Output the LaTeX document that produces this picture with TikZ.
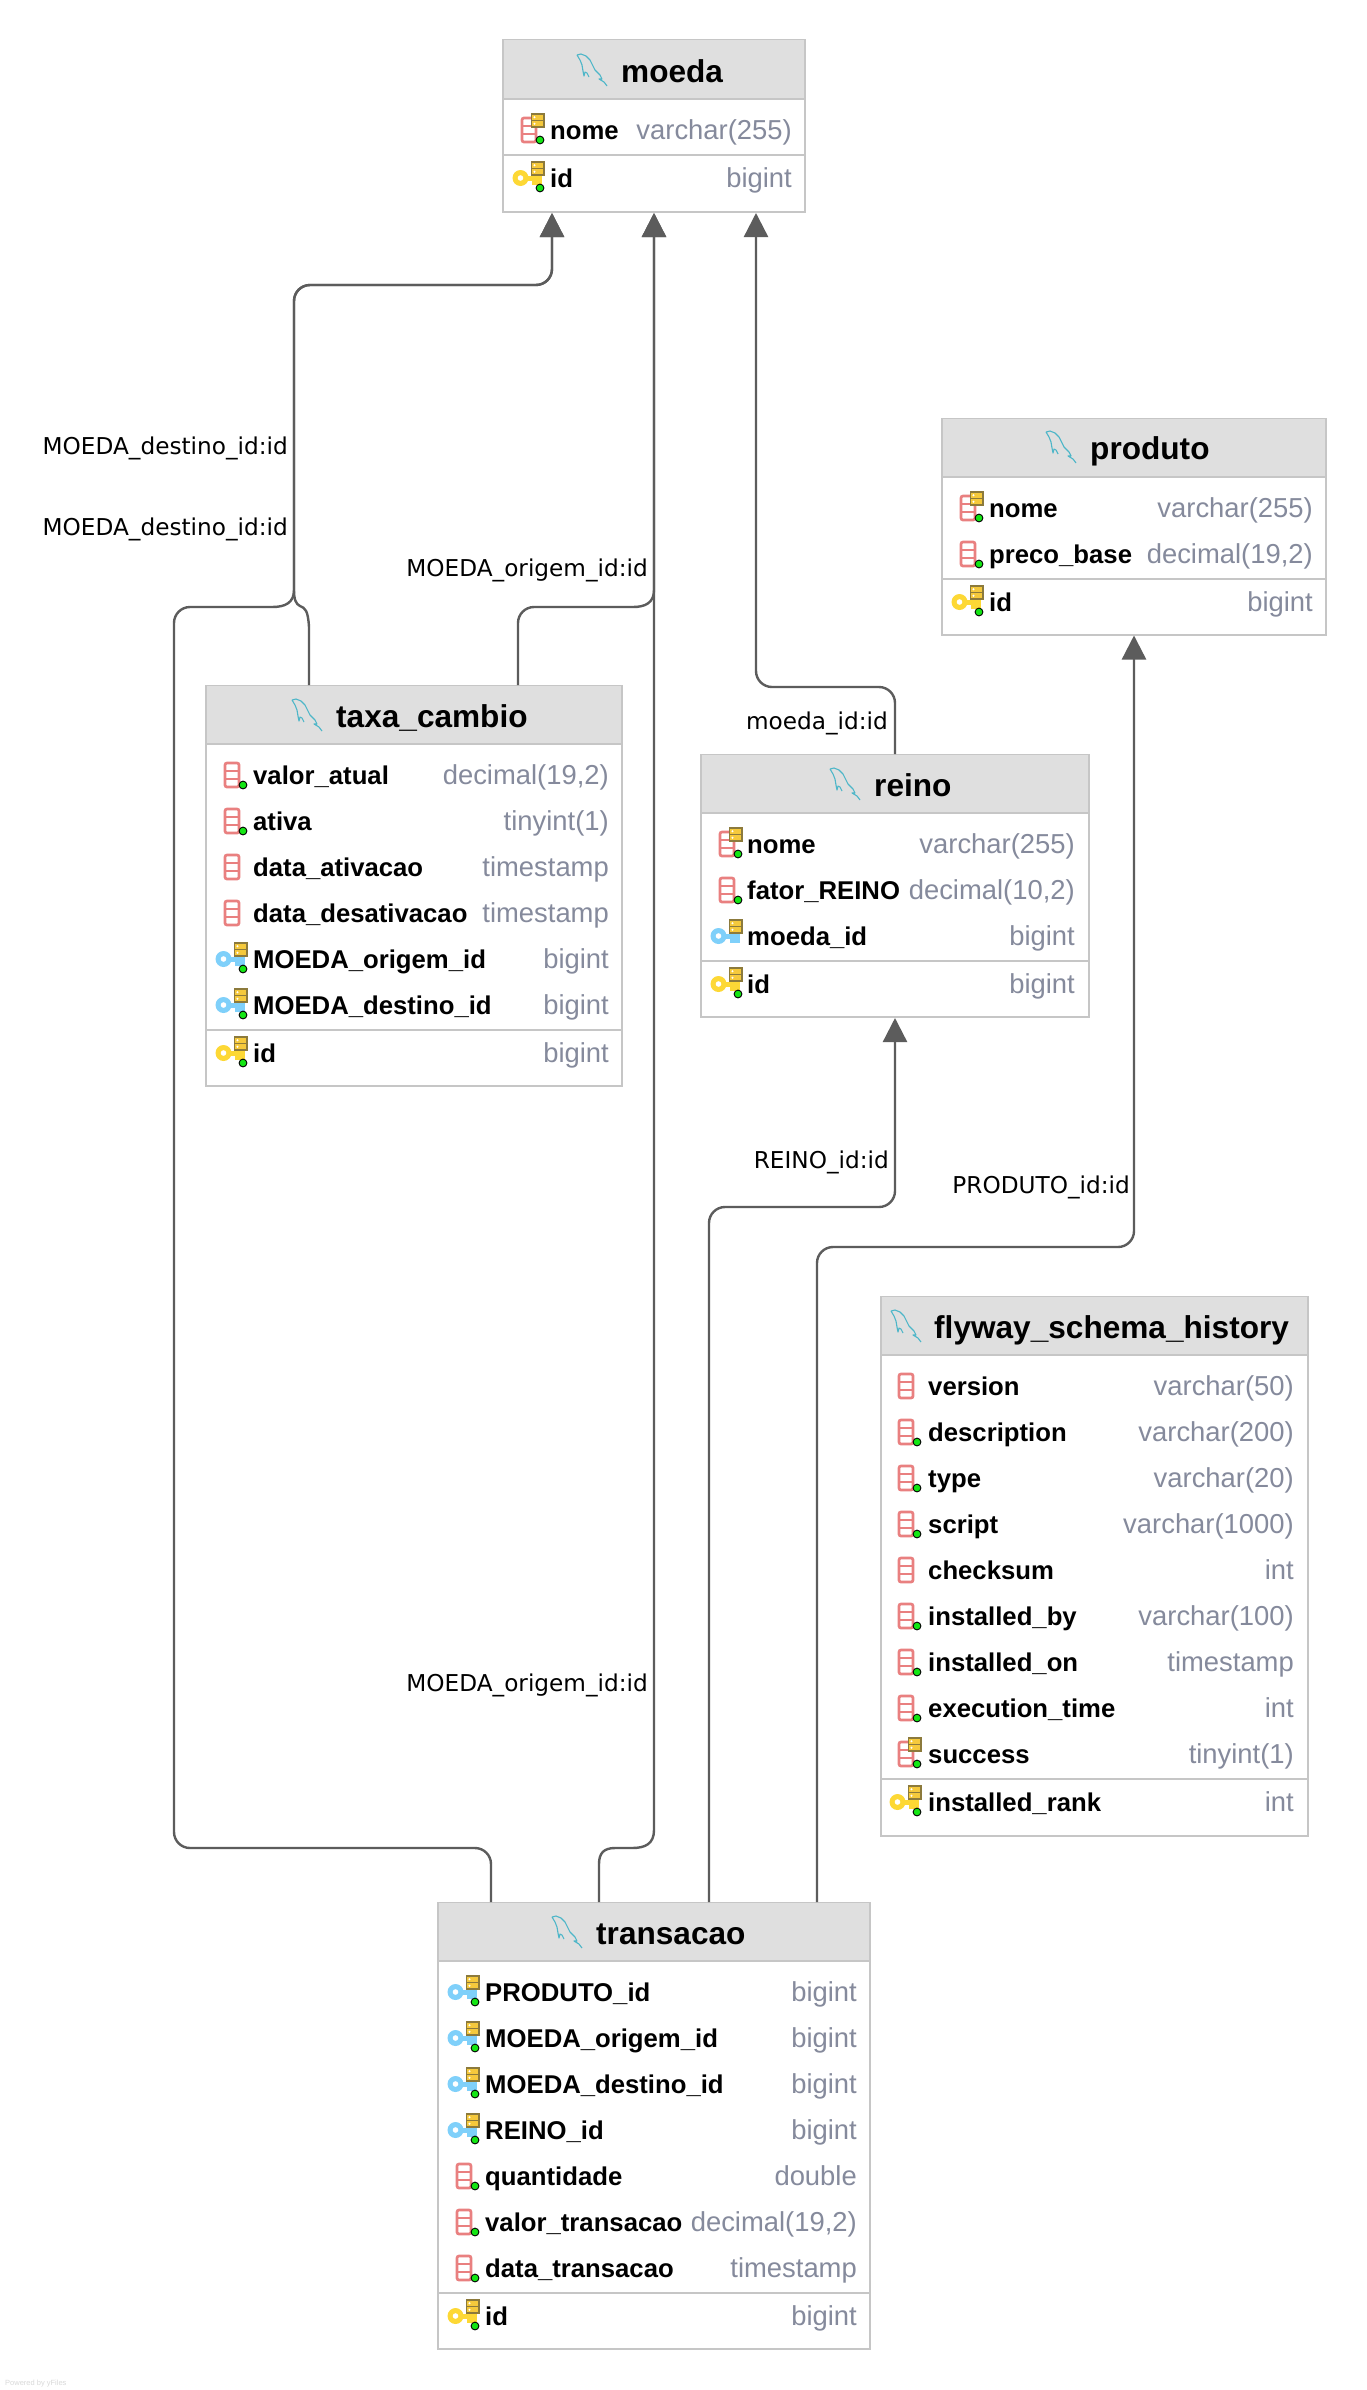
\documentclass[tikz,border=0pt]{standalone}
\usepackage{fontspec}
\usepackage{tikz}
\usetikzlibrary{arrows.meta}
\setmainfont{Liberation Sans}
\newfontfamily\linkfont{DejaVu Sans}

\definecolor{tableedge}{HTML}{C6C6C6}
\definecolor{headfill}{HTML}{DFDFDF}
\definecolor{typegray}{HTML}{858A9C}
\definecolor{linkgray}{HTML}{5C5C5C}
\definecolor{colred}{HTML}{E98080}
\definecolor{dotgreen}{HTML}{14E614}
\definecolor{idxgold}{HTML}{F5C93C}
\definecolor{idxedge}{HTML}{8C7A3C}
\definecolor{keygold}{HTML}{FDD835}
\definecolor{keyblue}{HTML}{7FD0FA}
\definecolor{fishteal}{HTML}{4DB6C8}

\tikzset{
    tablebox/.style={draw=tableedge, fill=white, line width=2pt, inner sep=0pt},
    tablehead/.style={fill=headfill, inner sep=0pt},
    tablerule/.style={draw=tableedge, line width=2.4pt},
    tabletitle/.style={anchor=base west, inner sep=0pt, font=\fontsize{31.6}{36}\bfseries\selectfont},
    fieldname/.style={anchor=base west, inner sep=0pt, font=\fontsize{25.7}{30}\bfseries\selectfont},
    fieldtype/.style={anchor=base east, inner sep=0pt, text=typegray, font=\fontsize{27.4}{30}\selectfont},
    linklabel/.style={anchor=base east, inner sep=0pt, font=\fontsize{23.2}{26}\linkfont\selectfont},
    fklink/.style={draw=linkgray, line width=2.4pt, rounded corners=16pt, -{Triangle[length=24pt,width=24pt]}},
    pics/colicon/.style={code={
        \draw[colred, line width=2.7pt, rounded corners=2pt] (-7,-12) rectangle (7,12);
        \draw[colred, line width=2.7pt] (-7,-4) -- (7,-4) (-7,4) -- (7,4);
    }},
    pics/nndot/.style={code={
        \filldraw[fill=dotgreen, draw=black, line width=0.9pt] (11,10) circle (3.9pt);
    }},
    pics/idxicon/.style={code={
        \filldraw[fill=idxgold, draw=idxedge, line width=1.2pt] (2.5,-16) rectangle (15,-9.5);
        \filldraw[fill=idxgold, draw=idxedge, line width=1.2pt] (2.5,-9.5) rectangle (15,-3);
        \fill[white] (5.5,-12.7) circle (1.1pt) (5.5,-6.2) circle (1.1pt);
    }},
    pics/keyicon/.style={code={
        \fill[#1] (-8.5,0) circle (8pt);
        \fill[#1] (-2,-2) rectangle (13,3);
        \fill[#1] (3,3) rectangle (13,7);
        \fill[white] (-8.5,0) circle (2.8pt);
    }},
    pics/colnn/.style={code={\pic {colicon}; \pic {nndot};}},
    pics/colidx/.style={code={\pic {colicon}; \pic {idxicon}; \pic {nndot};}},
    pics/fkey/.style={code={\pic {keyicon=keyblue}; \pic {idxicon}; \pic {nndot};}},
    pics/fkeybare/.style={code={\pic {keyicon=keyblue}; \pic {idxicon};}},
    pics/pkey/.style={code={\pic {keyicon=keygold}; \pic {idxicon}; \pic {nndot};}},
    pics/fish/.style={code={
        \draw[fishteal, line width=1.1pt, line join=round]
            (0,1) -- (4,0) -- (9,2) -- (13,6) -- (18,16) -- (23,21) -- (25,25) -- (22,25) -- (27,28) -- (30,32)
            (0,1) -- (3,6) -- (5,11) -- (6,17) -- (7,22) -- (8,18) -- (10,19) -- (12,23);
    }},
}

\begin{document}
\begin{tikzpicture}[x=1pt,y=-1pt]
    \useasboundingbox (0,0) rectangle (1366,2390);
    \fill[white] (0,0) rectangle (1366,2390);

    % moeda
    \node[tablebox, minimum width=302pt, minimum height=172pt] (moeda) at (654,126) {};
    \node[tablehead, minimum width=300pt, minimum height=58pt] (moeda_head) at (654,69.5) {};
    \draw[tablerule] (moeda_head.south west) -- (moeda_head.south east);
    \draw[tablerule] (503,155) -- (805,155);
    \pic at (577,54) {fish};
    \node[tabletitle] (moeda_title) at (621,82) {moeda};
    \pic at (529,130) {colidx};
    \node[fieldname] (moeda_nome) at (550,139.5) {nome};
    \node[fieldtype] (moeda_nome_type) at (792,139.5) {varchar(255)};
    \pic at (529,178) {pkey};
    \node[fieldname] (moeda_id) at (550,187.5) {id};
    \node[fieldtype] (moeda_id_type) at (792,187.5) {bigint};

    % produto
    \node[tablebox, minimum width=384pt, minimum height=216pt] (produto) at (1134,526.5) {};
    \node[tablehead, minimum width=382pt, minimum height=58pt] (produto_head) at (1134,448) {};
    \draw[tablerule] (produto_head.south west) -- (produto_head.south east);
    \draw[tablerule] (942,579) -- (1326,579);
    \pic at (1046,431) {fish};
    \node[tabletitle] (produto_title) at (1090,459) {produto};
    \pic at (968,508) {colidx};
    \node[fieldname] (produto_nome) at (989,517.5) {nome};
    \node[fieldtype] (produto_nome_type) at (1313,517.5) {varchar(255)};
    \pic at (968,554) {colnn};
    \node[fieldname] (produto_preco) at (989,563.5) {preco\_base};
    \node[fieldtype] (produto_preco_type) at (1313,563.5) {decimal(19,2)};
    \pic at (968,602) {pkey};
    \node[fieldname] (produto_id) at (989,611.5) {id};
    \node[fieldtype] (produto_id_type) at (1313,611.5) {bigint};

    % taxa_cambio
    \node[tablebox, minimum width=416pt, minimum height=400pt] (taxa_cambio) at (414,886) {};
    \node[tablehead, minimum width=414pt, minimum height=58pt] (taxa_head) at (414,715) {};
    \draw[tablerule] (taxa_head.south west) -- (taxa_head.south east);
    \draw[tablerule] (206,1030) -- (622,1030);
    \pic at (292,699) {fish};
    \node[tabletitle] (taxa_title) at (336,727) {taxa\_cambio};
    \pic at (232,775) {colnn};
    \node[fieldname] (taxa_valor) at (253,784.5) {valor\_atual};
    \node[fieldtype] (taxa_valor_type) at (609,784.5) {decimal(19,2)};
    \pic at (232,821) {colnn};
    \node[fieldname] (taxa_ativa) at (253,830.5) {ativa};
    \node[fieldtype] (taxa_ativa_type) at (609,830.5) {tinyint(1)};
    \pic at (232,867) {colicon};
    \node[fieldname] (taxa_ativacao) at (253,876.5) {data\_ativacao};
    \node[fieldtype] (taxa_ativacao_type) at (609,876.5) {timestamp};
    \pic at (232,913) {colicon};
    \node[fieldname] (taxa_desativacao) at (253,922.5) {data\_desativacao};
    \node[fieldtype] (taxa_desativacao_type) at (609,922.5) {timestamp};
    \pic at (232,959) {fkey};
    \node[fieldname] (taxa_origem) at (253,968.5) {MOEDA\_origem\_id};
    \node[fieldtype] (taxa_origem_type) at (609,968.5) {bigint};
    \pic at (232,1005) {fkey};
    \node[fieldname] (taxa_destino) at (253,1014.5) {MOEDA\_destino\_id};
    \node[fieldtype] (taxa_destino_type) at (609,1014.5) {bigint};
    \pic at (232,1053) {pkey};
    \node[fieldname] (taxa_id) at (253,1062.5) {id};
    \node[fieldtype] (taxa_id_type) at (609,1062.5) {bigint};

    % reino
    \node[tablebox, minimum width=388pt, minimum height=262pt] (reino) at (895,886) {};
    \node[tablehead, minimum width=386pt, minimum height=58pt] (reino_head) at (895,784) {};
    \draw[tablerule] (reino_head.south west) -- (reino_head.south east);
    \draw[tablerule] (701,961) -- (1089,961);
    \pic at (830,768) {fish};
    \node[tabletitle] (reino_title) at (874,796) {reino};
    \pic at (727,844) {colidx};
    \node[fieldname] (reino_nome) at (747,853.5) {nome};
    \node[fieldtype] (reino_nome_type) at (1075,853.5) {varchar(255)};
    \pic at (727,890) {colnn};
    \node[fieldname] (reino_fator) at (747,899.5) {fator\_REINO};
    \node[fieldtype] (reino_fator_type) at (1075,899.5) {decimal(10,2)};
    \pic at (727,936) {fkeybare};
    \node[fieldname] (reino_moeda) at (747,945.5) {moeda\_id};
    \node[fieldtype] (reino_moeda_type) at (1075,945.5) {bigint};
    \pic at (727,984) {pkey};
    \node[fieldname] (reino_id) at (747,993.5) {id};
    \node[fieldtype] (reino_id_type) at (1075,993.5) {bigint};

    % flyway_schema_history
    \node[tablebox, minimum width=427pt, minimum height=539pt] (flyway) at (1094.5,1566.5) {};
    \node[tablehead, minimum width=425pt, minimum height=58pt] (flyway_head) at (1094.5,1326) {};
    \draw[tablerule] (flyway_head.south west) -- (flyway_head.south east);
    \draw[tablerule] (881,1779) -- (1308,1779);
    \pic at (891,1310) {fish};
    \node[tabletitle] (flyway_title) at (934,1338) {flyway\_schema\_history};
    \pic at (906,1386) {colicon};
    \node[fieldname] (flyway_version) at (928,1395.5) {version};
    \node[fieldtype] (flyway_version_type) at (1294,1395.5) {varchar(50)};
    \pic at (906,1432) {colnn};
    \node[fieldname] (flyway_description) at (928,1441.5) {description};
    \node[fieldtype] (flyway_description_type) at (1294,1441.5) {varchar(200)};
    \pic at (906,1478) {colnn};
    \node[fieldname] (flyway_type) at (928,1487.5) {type};
    \node[fieldtype] (flyway_type_type) at (1294,1487.5) {varchar(20)};
    \pic at (906,1524) {colnn};
    \node[fieldname] (flyway_script) at (928,1533.5) {script};
    \node[fieldtype] (flyway_script_type) at (1294,1533.5) {varchar(1000)};
    \pic at (906,1570) {colicon};
    \node[fieldname] (flyway_checksum) at (928,1579.5) {checksum};
    \node[fieldtype] (flyway_checksum_type) at (1294,1579.5) {int};
    \pic at (906,1616) {colnn};
    \node[fieldname] (flyway_by) at (928,1625.5) {installed\_by};
    \node[fieldtype] (flyway_by_type) at (1294,1625.5) {varchar(100)};
    \pic at (906,1662) {colnn};
    \node[fieldname] (flyway_on) at (928,1671.5) {installed\_on};
    \node[fieldtype] (flyway_on_type) at (1294,1671.5) {timestamp};
    \pic at (906,1708) {colnn};
    \node[fieldname] (flyway_time) at (928,1717.5) {execution\_time};
    \node[fieldtype] (flyway_time_type) at (1294,1717.5) {int};
    \pic at (906,1754) {colidx};
    \node[fieldname] (flyway_success) at (928,1763.5) {success};
    \node[fieldtype] (flyway_success_type) at (1294,1763.5) {tinyint(1)};
    \pic at (906,1802) {pkey};
    \node[fieldname] (flyway_rank) at (928,1811.5) {installed\_rank};
    \node[fieldtype] (flyway_rank_type) at (1294,1811.5) {int};

    % transacao
    \node[tablebox, minimum width=432pt, minimum height=446pt] (transacao) at (654,2126) {};
    \node[tablehead, minimum width=430pt, minimum height=58pt] (transacao_head) at (654,1932) {};
    \draw[tablerule] (transacao_head.south west) -- (transacao_head.south east);
    \draw[tablerule] (438,2293) -- (870,2293);
    \pic at (552,1916) {fish};
    \node[tabletitle] (transacao_title) at (596,1944) {transacao};
    \pic at (464,1992) {fkey};
    \node[fieldname] (transacao_produto) at (485,2001.5) {PRODUTO\_id};
    \node[fieldtype] (transacao_produto_type) at (857,2001.5) {bigint};
    \pic at (464,2038) {fkey};
    \node[fieldname] (transacao_origem) at (485,2047.5) {MOEDA\_origem\_id};
    \node[fieldtype] (transacao_origem_type) at (857,2047.5) {bigint};
    \pic at (464,2084) {fkey};
    \node[fieldname] (transacao_destino) at (485,2093.5) {MOEDA\_destino\_id};
    \node[fieldtype] (transacao_destino_type) at (857,2093.5) {bigint};
    \pic at (464,2130) {fkey};
    \node[fieldname] (transacao_reino) at (485,2139.5) {REINO\_id};
    \node[fieldtype] (transacao_reino_type) at (857,2139.5) {bigint};
    \pic at (464,2176) {colnn};
    \node[fieldname] (transacao_quantidade) at (485,2185.5) {quantidade};
    \node[fieldtype] (transacao_quantidade_type) at (857,2185.5) {double};
    \pic at (464,2222) {colnn};
    \node[fieldname] (transacao_valor) at (485,2231.5) {valor\_transacao};
    \node[fieldtype] (transacao_valor_type) at (857,2231.5) {decimal(19,2)};
    \pic at (464,2268) {colnn};
    \node[fieldname] (transacao_data) at (485,2277.5) {data\_transacao};
    \node[fieldtype] (transacao_data_type) at (857,2277.5) {timestamp};
    \pic at (464,2316) {pkey};
    \node[fieldname] (transacao_id) at (485,2325.5) {id};
    \node[fieldtype] (transacao_id_type) at (857,2325.5) {bigint};

    % links
    \draw[fklink, sharp corners] ([xshift=-105pt]taxa_cambio.north) -- (309,627) .. controls (308,610) and (305,608) .. (300,606) .. controls (296,604) and (294,600) .. (294,590) -- (294,560) [rounded corners=16pt] -- (294,285) -- (552,285) -- ([xshift=-102pt]moeda.south);
    \draw[fklink] ([xshift=-163pt]transacao.north) -- (491,1848) -- (174,1848) -- (174,607) -- (250,607) [sharp corners] -- (272,607) .. controls (285,607) and (294,603) .. (294,590) -- (294,560) [rounded corners=16pt] -- (294,285) -- (552,285) -- ([xshift=-102pt]moeda.south);
    \draw[fklink] ([xshift=104pt]taxa_cambio.north) -- (518,607) -- (610,607) [sharp corners] -- (633,607) .. controls (645,607) and (654,603) .. (654,590) -- (moeda.south);
    \draw[fklink, sharp corners] ([xshift=-55pt]transacao.north) -- (599,1864) .. controls (599,1853) and (604,1848) .. (615,1848) -- (632,1848) .. controls (645,1848) and (654,1844) .. (654,1830) -- (moeda.south);
    \draw[fklink] (reino.north) -- (895,687) -- (756,687) -- ([xshift=102pt]moeda.south);
    \draw[fklink] ([xshift=55pt]transacao.north) -- (709,1207) -- (895,1207) -- (reino.south);
    \draw[fklink] ([xshift=163pt]transacao.north) -- (817,1247) -- (1134,1247) -- (produto.south);

    \node[linklabel] (label_destino_a) at (288,454) {MOEDA\_destino\_id:id};
    \node[linklabel] (label_destino_b) at (288,535) {MOEDA\_destino\_id:id};
    \node[linklabel] (label_origem_a) at (648,576) {MOEDA\_origem\_id:id};
    \node[linklabel] (label_origem_b) at (648,1691) {MOEDA\_origem\_id:id};
    \node[linklabel] (label_moeda) at (888,729) {moeda\_id:id};
    \node[linklabel] (label_reino) at (889,1168) {REINO\_id:id};
    \node[linklabel] (label_produto) at (1130,1193) {PRODUTO\_id:id};

    \node[anchor=base west, inner sep=0pt, text=black!15, font=\fontsize{7.5}{9}\selectfont] (powered) at (5,2385) {Powered by yFiles};
\end{tikzpicture}
\end{document}
